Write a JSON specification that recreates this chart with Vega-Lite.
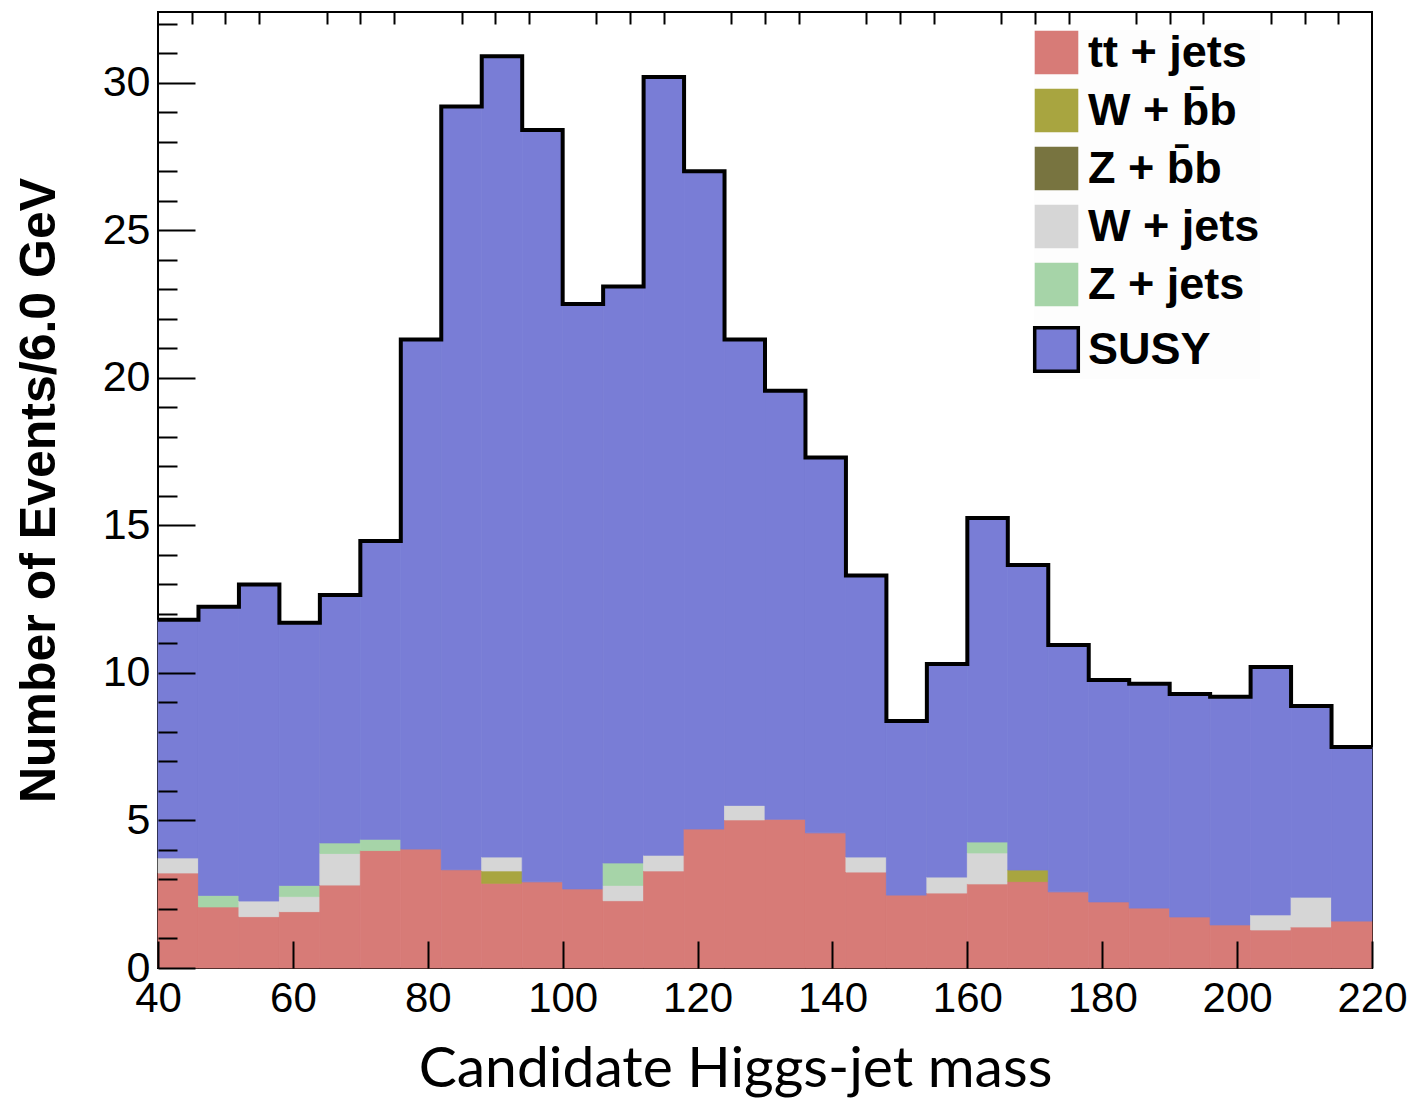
{
  "$schema": "https://vega.github.io/schema/vega-lite/v6.json",
  "width": 1214,
  "height": 956,
  "autosize": "none",
  "padding": {"left": 158, "top": 12, "right": 44, "bottom": 140},
  "background": "white",
  "config": {
    "view": {"stroke": "black", "strokeWidth": 2},
    "axis": {"grid": false, "domain": false}
  },
  "datasets": {
    "bins": [
      {"lo": 40, "hi": 46, "process": "tt + jets", "value": 3.22},
      {"lo": 40, "hi": 46, "process": "W + jets", "value": 0.51},
      {"lo": 40, "hi": 46, "process": "SUSY", "value": 8.07},
      {"lo": 46, "hi": 52, "process": "tt + jets", "value": 2.07},
      {"lo": 46, "hi": 52, "process": "Z + jets", "value": 0.39},
      {"lo": 46, "hi": 52, "process": "SUSY", "value": 9.78},
      {"lo": 52, "hi": 58, "process": "tt + jets", "value": 1.74},
      {"lo": 52, "hi": 58, "process": "W + jets", "value": 0.53},
      {"lo": 52, "hi": 58, "process": "SUSY", "value": 10.73},
      {"lo": 58, "hi": 64, "process": "tt + jets", "value": 1.91},
      {"lo": 58, "hi": 64, "process": "W + jets", "value": 0.51},
      {"lo": 58, "hi": 64, "process": "Z + jets", "value": 0.38},
      {"lo": 58, "hi": 64, "process": "SUSY", "value": 8.90},
      {"lo": 64, "hi": 70, "process": "tt + jets", "value": 2.81},
      {"lo": 64, "hi": 70, "process": "W + jets", "value": 1.07},
      {"lo": 64, "hi": 70, "process": "Z + jets", "value": 0.36},
      {"lo": 64, "hi": 70, "process": "SUSY", "value": 8.40},
      {"lo": 70, "hi": 76, "process": "tt + jets", "value": 3.98},
      {"lo": 70, "hi": 76, "process": "Z + jets", "value": 0.38},
      {"lo": 70, "hi": 76, "process": "SUSY", "value": 10.11},
      {"lo": 76, "hi": 82, "process": "tt + jets", "value": 4.03},
      {"lo": 76, "hi": 82, "process": "SUSY", "value": 17.27},
      {"lo": 82, "hi": 88, "process": "tt + jets", "value": 3.33},
      {"lo": 82, "hi": 88, "process": "SUSY", "value": 25.87},
      {"lo": 88, "hi": 94, "process": "tt + jets", "value": 2.87},
      {"lo": 88, "hi": 94, "process": "W + b\u0304b", "value": 0.42},
      {"lo": 88, "hi": 94, "process": "W + jets", "value": 0.47},
      {"lo": 88, "hi": 94, "process": "SUSY", "value": 27.14},
      {"lo": 94, "hi": 100, "process": "tt + jets", "value": 2.92},
      {"lo": 94, "hi": 100, "process": "SUSY", "value": 25.48},
      {"lo": 100, "hi": 106, "process": "tt + jets", "value": 2.68},
      {"lo": 100, "hi": 106, "process": "SUSY", "value": 19.82},
      {"lo": 106, "hi": 112, "process": "tt + jets", "value": 2.28},
      {"lo": 106, "hi": 112, "process": "W + jets", "value": 0.52},
      {"lo": 106, "hi": 112, "process": "Z + jets", "value": 0.76},
      {"lo": 106, "hi": 112, "process": "SUSY", "value": 19.54},
      {"lo": 112, "hi": 118, "process": "tt + jets", "value": 3.29},
      {"lo": 112, "hi": 118, "process": "W + jets", "value": 0.53},
      {"lo": 112, "hi": 118, "process": "SUSY", "value": 26.38},
      {"lo": 118, "hi": 124, "process": "tt + jets", "value": 4.71},
      {"lo": 118, "hi": 124, "process": "SUSY", "value": 22.29},
      {"lo": 124, "hi": 130, "process": "tt + jets", "value": 5.02},
      {"lo": 124, "hi": 130, "process": "W + jets", "value": 0.49},
      {"lo": 124, "hi": 130, "process": "SUSY", "value": 15.79},
      {"lo": 130, "hi": 136, "process": "tt + jets", "value": 5.04},
      {"lo": 130, "hi": 136, "process": "SUSY", "value": 14.52},
      {"lo": 136, "hi": 142, "process": "tt + jets", "value": 4.58},
      {"lo": 136, "hi": 142, "process": "SUSY", "value": 12.72},
      {"lo": 142, "hi": 148, "process": "tt + jets", "value": 3.25},
      {"lo": 142, "hi": 148, "process": "W + jets", "value": 0.51},
      {"lo": 142, "hi": 148, "process": "SUSY", "value": 9.54},
      {"lo": 148, "hi": 154, "process": "tt + jets", "value": 2.47},
      {"lo": 148, "hi": 154, "process": "SUSY", "value": 5.90},
      {"lo": 154, "hi": 160, "process": "tt + jets", "value": 2.54},
      {"lo": 154, "hi": 160, "process": "W + jets", "value": 0.54},
      {"lo": 154, "hi": 160, "process": "SUSY", "value": 7.22},
      {"lo": 160, "hi": 166, "process": "tt + jets", "value": 2.85},
      {"lo": 160, "hi": 166, "process": "W + jets", "value": 1.05},
      {"lo": 160, "hi": 166, "process": "Z + jets", "value": 0.37},
      {"lo": 160, "hi": 166, "process": "SUSY", "value": 10.98},
      {"lo": 166, "hi": 172, "process": "tt + jets", "value": 2.93},
      {"lo": 166, "hi": 172, "process": "W + b\u0304b", "value": 0.39},
      {"lo": 166, "hi": 172, "process": "SUSY", "value": 10.34},
      {"lo": 172, "hi": 178, "process": "tt + jets", "value": 2.58},
      {"lo": 172, "hi": 178, "process": "SUSY", "value": 8.37},
      {"lo": 178, "hi": 184, "process": "tt + jets", "value": 2.24},
      {"lo": 178, "hi": 184, "process": "SUSY", "value": 7.52},
      {"lo": 184, "hi": 190, "process": "tt + jets", "value": 2.03},
      {"lo": 184, "hi": 190, "process": "SUSY", "value": 7.60},
      {"lo": 190, "hi": 196, "process": "tt + jets", "value": 1.73},
      {"lo": 190, "hi": 196, "process": "SUSY", "value": 7.56},
      {"lo": 196, "hi": 202, "process": "tt + jets", "value": 1.46},
      {"lo": 196, "hi": 202, "process": "SUSY", "value": 7.73},
      {"lo": 202, "hi": 208, "process": "tt + jets", "value": 1.29},
      {"lo": 202, "hi": 208, "process": "W + jets", "value": 0.51},
      {"lo": 202, "hi": 208, "process": "SUSY", "value": 8.40},
      {"lo": 208, "hi": 214, "process": "tt + jets", "value": 1.39},
      {"lo": 208, "hi": 214, "process": "W + jets", "value": 1.01},
      {"lo": 208, "hi": 214, "process": "SUSY", "value": 6.48},
      {"lo": 214, "hi": 220, "process": "tt + jets", "value": 1.59},
      {"lo": 214, "hi": 220, "process": "SUSY", "value": 5.90}
    ],
    "outline": [
      {"edge": 40, "total": 11.8},
      {"edge": 46, "total": 12.24},
      {"edge": 52, "total": 13.0},
      {"edge": 58, "total": 11.7},
      {"edge": 64, "total": 12.64},
      {"edge": 70, "total": 14.47},
      {"edge": 76, "total": 21.3},
      {"edge": 82, "total": 29.2},
      {"edge": 88, "total": 30.9},
      {"edge": 94, "total": 28.4},
      {"edge": 100, "total": 22.5},
      {"edge": 106, "total": 23.1},
      {"edge": 112, "total": 30.2},
      {"edge": 118, "total": 27.0},
      {"edge": 124, "total": 21.3},
      {"edge": 130, "total": 19.56},
      {"edge": 136, "total": 17.3},
      {"edge": 142, "total": 13.3},
      {"edge": 148, "total": 8.37},
      {"edge": 154, "total": 10.3},
      {"edge": 160, "total": 15.25},
      {"edge": 166, "total": 13.66},
      {"edge": 172, "total": 10.95},
      {"edge": 178, "total": 9.76},
      {"edge": 184, "total": 9.63},
      {"edge": 190, "total": 9.29},
      {"edge": 196, "total": 9.19},
      {"edge": 202, "total": 10.2},
      {"edge": 208, "total": 8.88},
      {"edge": 214, "total": 7.49},
      {"edge": 220, "total": 7.49}
    ]
  },
  "layer": [
    {
      "data": {"name": "bins"},
      "transform": [
        {"calculate": "indexof(['tt + jets','W + b\u0304b','Z + b\u0304b','W + jets','Z + jets','SUSY'], datum.process)", "as": "stackOrder"},
        {"stack": "value", "groupby": ["lo"], "sort": [{"field": "stackOrder", "order": "ascending"}], "as": ["y0", "y1"]}
      ],
      "mark": {"type": "bar", "opacity": 1, "strokeWidth": 0.8, "stroke": {"expr": "scale('color', datum.process)"}},
      "encoding": {
        "x": {
          "field": "lo", "type": "quantitative",
          "scale": {"domain": [40, 220], "nice": false, "zero": false},
          "axis": {
            "values": [40, 60, 80, 100, 120, 140, 160, 180, 200, 220],
            "tickSize": -27, "tickWidth": 2, "tickColor": "black",
            "labelFont": "Liberation Sans", "labelFontSize": 42, "labelColor": "black",
            "labelPadding": 37, "labelFlush": false, "labelOverlap": false, "labelBound": false,
            "title": "Candidate Higgs-jet mass",
            "titleFont": "Lato", "titleFontSize": 57, "titleFontWeight": "normal", "titleColor": "black",
            "titleX": 577, "titleY": 118, "titleAlign": "center", "titleBaseline": "alphabetic",
            "zindex": 1
          }
        },
        "x2": {"field": "hi"},
        "y": {
          "field": "y0", "type": "quantitative",
          "scale": {"domain": [0, 32.4], "nice": false},
          "axis": {
            "values": [0, 5, 10, 15, 20, 25, 30],
            "tickSize": -37, "tickWidth": 2, "tickColor": "black",
            "labelFont": "Liberation Sans", "labelFontSize": 43, "labelColor": "black",
            "labelPadding": 45, "labelOverlap": false, "labelFlush": false, "labelBound": false,
            "title": "Number of Events/6.0 GeV",
            "titleFont": "Liberation Sans", "titleFontSize": 50, "titleFontWeight": "bold", "titleColor": "black",
            "titleX": -119, "titleY": 478, "titleAlign": "center", "titleBaseline": "middle", "titleAngle": 270,
            "zindex": 1
          }
        },
        "y2": {"field": "y1"},
        "color": {
          "field": "process", "type": "nominal",
          "scale": {
            "domain": ["tt + jets", "W + b\u0304b", "Z + b\u0304b", "W + jets", "Z + jets", "SUSY"],
            "range": ["#D77B77", "#A8A540", "#787440", "#D6D6D6", "#A6D4A8", "#797DD6"]
          },
          "legend": {
            "title": null,
            "orient": "none", "legendX": 876, "legendY": 18,
            "symbolType": "square", "symbolSize": 1900,
            "labelFont": "Liberation Sans", "labelFontSize": 45, "labelFontWeight": "bold", "labelColor": "black",
            "labelOffset": 9, "rowPadding": 12, "padding": 0, "labelLimit": 400,
            "fillColor": "#fdfdfd",
            "encoding": {
              "symbols": {
                "stroke": {"value": {"expr": "datum.value === 'SUSY' ? 'black' : 'transparent'"}},
                "strokeWidth": {"value": {"expr": "datum.value === 'SUSY' ? 3.5 : 0"}}
              }
            }
          }
        }
      }
    },
    {
      "data": {"name": "outline"},
      "mark": {"type": "line", "interpolate": "step-after", "color": "black", "strokeWidth": 4},
      "encoding": {
        "x": {
          "field": "edge", "type": "quantitative",
          "scale": {"domain": [40, 220], "nice": false, "zero": false},
          "axis": {
            "values": [45, 50, 55, 65, 70, 75, 85, 90, 95, 105, 110, 115, 125, 130, 135, 145, 150, 155, 165, 170, 175, 185, 190, 195, 205, 210, 215],
            "tickSize": -12, "tickWidth": 2, "tickColor": "black",
            "labels": false, "title": null, "zindex": 1
          }
        },
        "y": {
          "field": "total", "type": "quantitative",
          "scale": {"domain": [0, 32.4], "nice": false},
          "axis": {
            "orient": "left",
            "values": [1, 2, 3, 4, 6, 7, 8, 9, 11, 12, 13, 14, 16, 17, 18, 19, 21, 22, 23, 24, 26, 27, 28, 29, 31, 32],
            "tickSize": -19, "tickWidth": 2, "tickColor": "black",
            "labels": false, "title": null, "zindex": 1
          }
        }
      }
    }
  ],
  "resolve": {"axis": {"x": "independent", "y": "independent"}}
}
